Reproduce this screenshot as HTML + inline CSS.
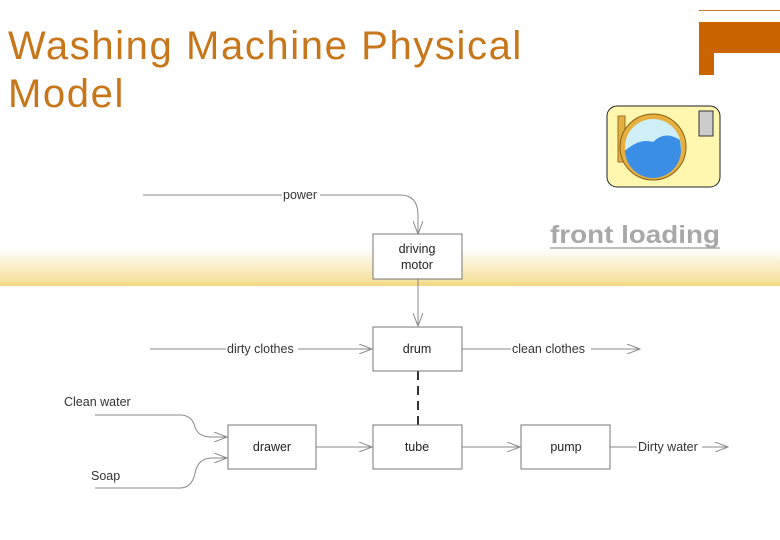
<!DOCTYPE html>
<html><head><style>
body{margin:0;width:780px;height:540px;position:relative;background:#fff;overflow:hidden;font-family:"Liberation Sans",sans-serif}
.band{position:absolute;left:0;top:248px;width:780px;height:38px;background:linear-gradient(#fff,#f6e3a0 85%,#f3d77f)}
.title{position:absolute;left:8px;top:22px;font-size:40px;line-height:48px;color:#c8761a;font-weight:normal;letter-spacing:1.6px}
</style></head><body>
<div class="band"></div>
<div class="title">Washing Machine Physical<br>Model</div>
<div style="position:absolute;left:699px;top:10px;width:81px;height:1px;background:#c87a2a"></div>
<div style="position:absolute;left:699px;top:22px;width:81px;height:31px;background:#c96400"></div>
<div style="position:absolute;left:699px;top:22px;width:15px;height:53px;background:#c96400"></div>
<svg width="780" height="540" style="position:absolute;left:0;top:0" font-family="Liberation Sans, sans-serif" font-size="12.5">
<defs><marker id="a" markerWidth="14" markerHeight="10" refX="13" refY="5" orient="auto" markerUnits="userSpaceOnUse"><path d="M0,0 L13,5 L0,10" fill="none" stroke="#888" stroke-width="1"/></marker></defs>
<g>
<rect x="607" y="106" width="113" height="81" rx="10" fill="#fff6b0" stroke="#222"/>
<rect x="618" y="116" width="7" height="46" fill="#e0b040" stroke="#a07020"/>
<circle cx="653" cy="147" r="33" fill="#e5b040" stroke="#8a6010"/>
<circle cx="653" cy="147" r="28" fill="#cfeff6"/>
<path d="M626,150 Q640,138 653,142 Q665,130 680,140 L681,150 A28,28 0 0 1 625,150Z" fill="#3a8ee6"/>
<rect x="699" y="111" width="14" height="25" fill="#ccc" stroke="#333"/>
</g>
<g stroke="#888" fill="none" stroke-width="1">
<path d="M143,195 L400,195 Q418,195 418,215 L418,234" marker-end="url(#a)"/>
<line x1="418" y1="279" x2="418" y2="326" marker-end="url(#a)"/>
<line x1="150" y1="349" x2="372" y2="349" marker-end="url(#a)"/>
<line x1="462" y1="349" x2="640" y2="349" marker-end="url(#a)"/>
<line x1="418" y1="371" x2="418" y2="425" stroke="#333" stroke-width="2" stroke-dasharray="9,6"/>
<path d="M95,415 L180,415 Q192,415 195,427 Q198,437 212,437 L227,437" marker-end="url(#a)"/>
<path d="M95,488 L180,488 Q192,488 195,473 Q198,458 212,458 L227,458" marker-end="url(#a)"/>
<line x1="316" y1="447" x2="372" y2="447" marker-end="url(#a)"/>
<line x1="462" y1="447" x2="520" y2="447" marker-end="url(#a)"/>
<line x1="610" y1="447" x2="728" y2="447" marker-end="url(#a)"/>
</g>
<g fill="#fff" stroke="#777">
<rect x="373" y="234" width="89" height="45"/>
<rect x="373" y="327" width="89" height="44"/>
<rect x="373" y="425" width="89" height="44"/>
<rect x="228" y="425" width="88" height="44"/>
<rect x="521" y="425" width="89" height="44"/>
</g>
<g fill="#222" text-anchor="middle">
<text x="417" y="253">driving</text><text x="417" y="269">motor</text>
<text x="417" y="353">drum</text><text x="417" y="451">tube</text>
<text x="272" y="451">drawer</text><text x="566" y="451">pump</text>
</g>
<g fill="#333">
<rect x="282" y="188" width="38" height="14" fill="#fff"/><text x="283" y="199">power</text>
<rect x="226" y="342" width="72" height="14" fill="#fff"/><text x="227" y="353">dirty clothes</text>
<rect x="511" y="342" width="80" height="14" fill="#fff"/><text x="512" y="353">clean clothes</text>
<rect x="637" y="440" width="65" height="14" fill="#fff"/><text x="638" y="451">Dirty water</text>
<text x="64" y="406">Clean water</text><text x="91" y="480">Soap</text>
</g>
<text x="550" y="243" font-size="25" font-weight="bold" fill="#a8a8a8" textLength="170" lengthAdjust="spacingAndGlyphs">front loading</text>
<line x1="550" y1="248" x2="720" y2="248" stroke="#a8a8a8" stroke-width="1.5"/>
</svg>
</body></html>
